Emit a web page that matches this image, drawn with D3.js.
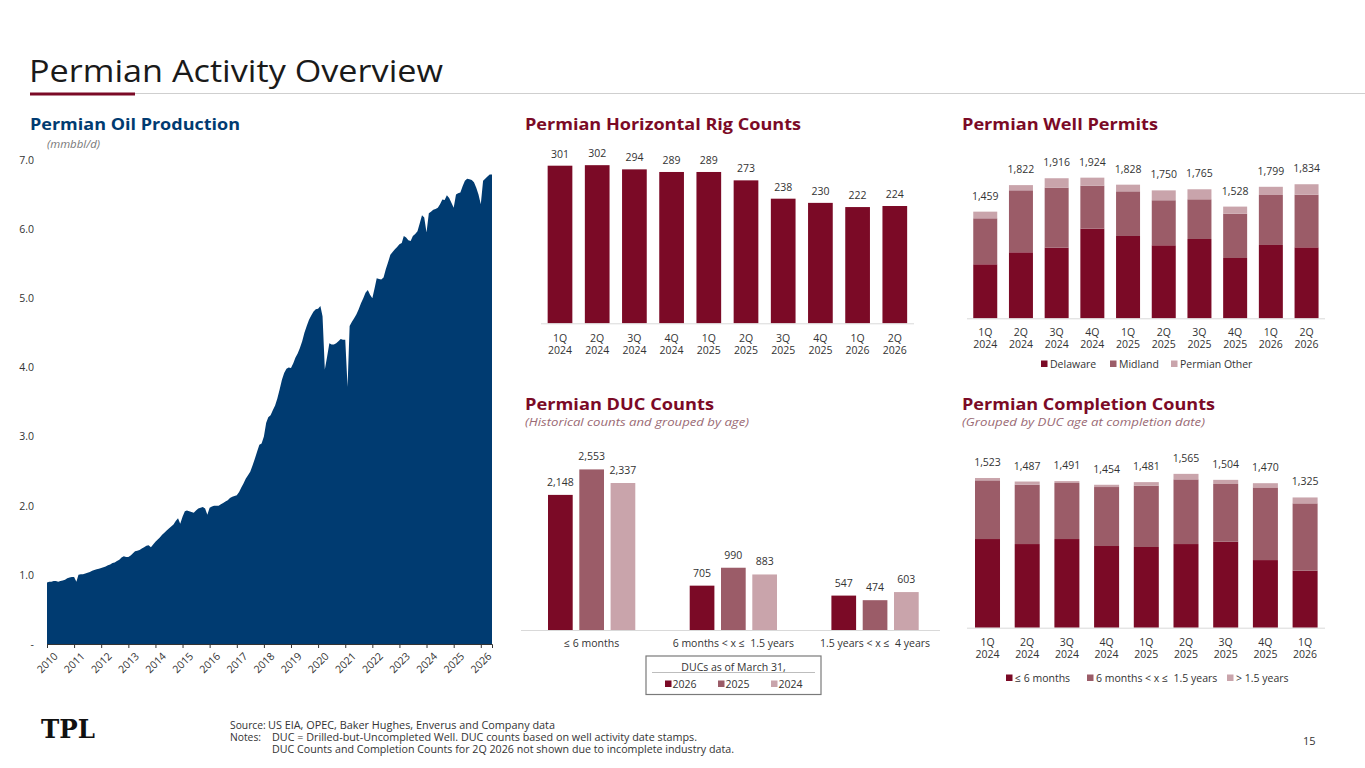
<!DOCTYPE html>
<html><head><meta charset="utf-8">
<script src="https://cdn.jsdelivr.net/npm/d3@7"></script>
<style>
body{margin:0;background:#fff}
svg{display:block}
text{font-family:"Open Sans","Noto Sans",sans-serif}
</style>
</head><body>
<svg id="c" width="1365" height="768"></svg>
<script>
// ---------------- DATA ----------------
const oilStart = "2010-01-01"; // monthly values from Jan 2010 (mmbbl/d)
const oilProduction = [
 0.89,0.90,0.90,0.91,0.91,0.90,0.91,0.92,0.93,0.95,0.96,0.97,
 0.97,0.90,1.00,1.01,1.01,1.02,1.03,1.04,1.06,1.07,1.08,1.09,
 1.10,1.11,1.12,1.14,1.15,1.17,1.18,1.20,1.22,1.25,1.27,1.26,
 1.26,1.28,1.31,1.34,1.35,1.36,1.38,1.40,1.42,1.43,1.40,1.44,
 1.48,1.51,1.54,1.58,1.61,1.64,1.67,1.70,1.73,1.78,1.82,1.74,
 1.84,1.92,1.93,1.92,1.91,1.90,1.93,1.96,1.97,1.98,1.96,1.87,
 1.97,1.99,2.00,2.00,2.00,2.02,2.04,2.06,2.08,2.11,2.13,2.14,
 2.15,2.20,2.26,2.32,2.39,2.44,2.49,2.58,2.68,2.78,2.88,2.90,
 3.00,3.20,3.28,3.31,3.38,3.45,3.55,3.68,3.82,3.92,3.98,4.00,
 3.99,4.06,4.14,4.20,4.28,4.38,4.50,4.60,4.69,4.75,4.81,4.84,
 4.85,4.89,4.74,3.97,4.15,4.35,4.33,4.33,4.35,4.38,4.41,4.40,
 4.40,3.72,4.60,4.66,4.71,4.77,4.84,4.93,5.00,5.08,5.12,5.05,
 5.00,5.15,5.29,5.28,5.27,5.30,5.42,5.52,5.63,5.67,5.71,5.74,
 5.78,5.80,5.90,5.88,5.84,5.83,5.90,5.93,5.97,6.08,6.20,6.17,
 5.95,6.23,6.25,6.28,6.29,6.31,6.36,6.43,6.42,6.49,6.45,6.38,
 6.31,6.50,6.52,6.53,6.62,6.70,6.73,6.72,6.71,6.68,6.60,6.50,
 6.36,6.70,6.73,6.76,6.79,6.79
];
const oilYTicks = [0,1,2,3,4,5,6,7];
const oilYears = d3.range(2010, 2027);

const rigQuarters = ["1Q 2024","2Q 2024","3Q 2024","4Q 2024","1Q 2025","2Q 2025","3Q 2025","4Q 2025","1Q 2026","2Q 2026"];
const rigCounts = [301,302,294,289,289,273,238,230,222,224];

const permitQuarters = ["1Q 2024","2Q 2024","3Q 2024","4Q 2024","1Q 2025","2Q 2025","3Q 2025","4Q 2025","1Q 2026","2Q 2026"];
const permitDelaware = [739,903,967,1227,1126,999,1085,825,1003,971];
const permitMidland  = [629,848,821,588,611,616,543,606,684,720];
const permitOther    = [91,71,128,109,91,135,137,97,112,143];
const permitSeries = ["Delaware","Midland","Permian Other"];

const ducCategories = ["≤ 6 months","6 months < x ≤  1.5 years","1.5 years < x ≤  4 years"];
const ducYears = ["2026","2025","2024"];
const duc2026 = [2148,705,547];
const duc2025 = [2553,990,474];
const duc2024 = [2337,883,603];

const complQuarters = ["1Q 2024","2Q 2024","3Q 2024","4Q 2024","1Q 2025","2Q 2025","3Q 2025","4Q 2025","1Q 2026"];
const complShort = [902,851,902,831,821,851,875,688,580];
const complMid   = [597,604,570,600,624,658,587,739,685];
const complLong  = [24,32,19,23,36,56,42,43,60];
const complSeries = ["≤ 6 months","6 months < x ≤  1.5 years","> 1.5 years"];

// ---------------- STYLE ----------------
const NAVY = "#003b71", MAROON = "#7b0a26", MAUVE = "#9b5c68", PINK = "#c9a4ab";
const TXT = "#333";
const fmt = d3.format(",");
const svg = d3.select("#c");

// ---------------- HEADER ----------------
svg.append("text").attr("x",29).attr("y",82).attr("font-size",30.5).attr("fill","#1a1a1a")
  .attr("font-weight",400).attr("textLength",414).attr("lengthAdjust","spacingAndGlyphs").text("Permian Activity Overview");
svg.append("line").attr("x1",135).attr("x2",1365).attr("y1",93.5).attr("y2",93.5).attr("stroke","#cfcfcf").attr("stroke-width",1);
svg.append("line").attr("x1",30).attr("x2",135).attr("y1",94).attr("y2",94).attr("stroke",MAROON).attr("stroke-width",3);

function title(x,y,t,c,w){ svg.append("text").attr("x",x).attr("y",y).attr("font-size",16.5).attr("font-weight",700).attr("fill",c)
  .attr("textLength",w).attr("lengthAdjust","spacingAndGlyphs").text(t); }
function subtitle(x,y,t,c,w){ svg.append("text").attr("x",x).attr("y",y).attr("font-size",11).attr("font-style","italic").attr("fill",c)
  .attr("textLength",w).attr("lengthAdjust","spacingAndGlyphs").text(t); }
function twoLine(g, x, yTop, label){
  const parts = label.split(" ");
  const t = g.append("text").attr("text-anchor","middle").attr("font-size",10.5).attr("fill",TXT);
  t.append("tspan").attr("x",x).attr("y",yTop).text(parts[0]);
  t.append("tspan").attr("x",x).attr("y",yTop+12).text(parts[1]);
}

// ---------------- OIL PRODUCTION ----------------
title(30,130,"Permian Oil Production",NAVY,210);
svg.append("text").attr("x",47).attr("y",148).attr("font-size",11).attr("font-style","italic").attr("fill","#777")
  .attr("textLength",53).attr("lengthAdjust","spacingAndGlyphs").text("(mmbbl/d)");
const oilData = oilProduction.map((v,i)=>({date:d3.timeMonth.offset(new Date(oilStart+"T00:00:00"), i), v}));
const xOil = d3.scaleTime().domain([oilData[0].date, oilData[oilData.length-1].date]).range([47,492]);
const yOil = d3.scaleLinear().domain([0,7]).range([644,160]);
svg.append("path").datum(oilData).attr("fill",NAVY)
  .attr("d", d3.area().x(d=>xOil(d.date)).y0(yOil(0)).y1(d=>yOil(d.v)));
const yAx = svg.append("g").attr("transform","translate(47,0)")
  .call(d3.axisLeft(yOil).tickValues(oilYTicks).tickSize(0).tickPadding(13).tickFormat(d=>d===0?"-":d3.format(".1f")(d)));
yAx.select(".domain").remove();
yAx.selectAll("text").attr("font-size",10.5).attr("fill",TXT).style("font-family","Open Sans");
const xAx = svg.append("g").attr("transform",`translate(0,${yOil(0)})`)
  .call(d3.axisBottom(xOil).tickValues(oilYears.map(y=>new Date(y,0,1))).tickSize(4).tickFormat(d3.timeFormat("%Y")));
xAx.select(".domain").attr("stroke","#333");
xAx.selectAll(".tick line").attr("stroke","#333");
xAx.selectAll("text").attr("font-size",10.5).attr("fill",TXT).style("font-family","Open Sans")
  .attr("text-anchor","end").attr("transform","translate(3,2) rotate(-45)").attr("dy","0.6em").attr("dx","-0.2em");

// ---------------- RIG COUNTS ----------------
title(525,130,"Permian Horizontal Rig Counts",MAROON,276);
const xRig = d3.scaleBand().domain(rigQuarters).range([541.4,913.4]).paddingInner(0.336).paddingOuter(0.168);
const yRig = d3.scaleLinear().domain([0,350]).range([323.3,140.04]);
const gRig = svg.append("g");
gRig.selectAll("rect").data(rigCounts).join("rect")
  .attr("x",(d,i)=>xRig(rigQuarters[i])).attr("width",xRig.bandwidth())
  .attr("y",d=>yRig(d)).attr("height",d=>yRig(0)-yRig(d)).attr("fill",MAROON);
gRig.selectAll("text.v").data(rigCounts).join("text").attr("class","v")
  .attr("x",(d,i)=>xRig(rigQuarters[i])+xRig.bandwidth()/2).attr("y",d=>yRig(d)-8)
  .attr("text-anchor","middle").attr("font-size",10.5).attr("fill",TXT).text(fmt);
gRig.append("line").attr("x1",541).attr("x2",914).attr("y1",yRig(0)+0.5).attr("y2",yRig(0)+0.5).attr("stroke","#d9d9d9");
rigQuarters.forEach(q=>twoLine(gRig, xRig(q)+xRig.bandwidth()/2, 341.5, q));

// ---------------- WELL PERMITS ----------------
title(962,130,"Permian Well Permits",MAROON,196);
const xPer = d3.scaleBand().domain(permitQuarters).range([967.4,1324.4]).paddingInner(0.328).paddingOuter(0.164);
const yPer = d3.scaleLinear().domain([0,2500]).range([318.3,135.55]);
const perRows = permitQuarters.map((q,i)=>({q, "Delaware":permitDelaware[i], "Midland":permitMidland[i], "Permian Other":permitOther[i]}));
const perStack = d3.stack().keys(permitSeries)(perRows);
const perColor = d3.scaleOrdinal().domain(permitSeries).range([MAROON,MAUVE,PINK]);
const gPer = svg.append("g");
gPer.selectAll("g.s").data(perStack).join("g").attr("class","s").attr("fill",s=>perColor(s.key))
  .selectAll("rect").data(s=>s).join("rect")
  .attr("x",d=>xPer(d.data.q)).attr("width",xPer.bandwidth())
  .attr("y",d=>yPer(d[1])).attr("height",d=>yPer(d[0])-yPer(d[1]));
gPer.selectAll("text.v").data(perRows).join("text").attr("class","v")
  .attr("x",d=>xPer(d.q)+xPer.bandwidth()/2)
  .attr("y",d=>yPer(d.Delaware+d.Midland+d["Permian Other"])-12)
  .attr("text-anchor","middle").attr("font-size",10.5).attr("fill",TXT)
  .text(d=>fmt(d.Delaware+d.Midland+d["Permian Other"]));
gPer.append("line").attr("x1",967).attr("x2",1325).attr("y1",yPer(0)+0.5).attr("y2",yPer(0)+0.5).attr("stroke","#d9d9d9");
permitQuarters.forEach(q=>twoLine(gPer, xPer(q)+xPer.bandwidth()/2, 335.5, q));
const perLegX = [1041,1110,1171];
permitSeries.forEach((s,i)=>{
  gPer.append("rect").attr("x",perLegX[i]).attr("y",360.5).attr("width",6.5).attr("height",6.5).attr("fill",perColor(s));
  gPer.append("text").attr("x",perLegX[i]+9).attr("y",367.5).attr("font-size",10.5).attr("fill",TXT).text(s);
});

// ---------------- DUC COUNTS ----------------
title(525,410,"Permian DUC Counts",MAROON,189);
subtitle(525,426,"(Historical counts and grouped by age)","#9a6a74",224);
const x0Duc = d3.scaleBand().domain(ducCategories).range([520.8,945.9]).paddingInner(0.384).paddingOuter(0.192);
const x1Duc = d3.scaleBand().domain(ducYears).range([0,x0Duc.bandwidth()]).paddingInner(0.211);
const yDuc = d3.scaleLinear().domain([0,3000]).range([630,441.3]);
const ducColor = d3.scaleOrdinal().domain(ducYears).range([MAROON,MAUVE,PINK]);
const ducVals = {"2026":duc2026,"2025":duc2025,"2024":duc2024};
const gDuc = svg.append("g");
ducCategories.forEach((c,ci)=>{
  ducYears.forEach(y=>{
    const v = ducVals[y][ci];
    const x = x0Duc(c)+x1Duc(y);
    gDuc.append("rect").attr("x",x).attr("width",x1Duc.bandwidth()).attr("y",yDuc(v)).attr("height",yDuc(0)-yDuc(v)).attr("fill",ducColor(y));
    gDuc.append("text").attr("x",x+x1Duc.bandwidth()/2).attr("y",yDuc(v)-9).attr("text-anchor","middle")
      .attr("font-size",10.5).attr("fill",TXT).text(fmt(v));
  });
  gDuc.append("text").attr("x",x0Duc(c)+x0Duc.bandwidth()/2).attr("y",647).attr("text-anchor","middle")
    .attr("font-size",10.5).attr("fill",TXT).attr("xml:space","preserve").text(c);
});
gDuc.append("line").attr("x1",521).attr("x2",940).attr("y1",yDuc(0)+0.5).attr("y2",yDuc(0)+0.5).attr("stroke","#d9d9d9");
gDuc.append("rect").attr("x",646).attr("y",656).attr("width",175).attr("height",38.5).attr("fill","none").attr("stroke","#7a7a7a").attr("stroke-width",1.2);
gDuc.append("text").attr("x",733.5).attr("y",670.5).attr("text-anchor","middle").attr("font-size",10.5).attr("fill",TXT).text("DUCs as of March 31,");
gDuc.append("line").attr("x1",652).attr("x2",815).attr("y1",672.5).attr("y2",672.5).attr("stroke","#bdbdbd");
const ducLegX = [665,718,771];
ducYears.forEach((y,i)=>{
  gDuc.append("rect").attr("x",ducLegX[i]).attr("y",680.5).attr("width",6.5).attr("height",6.5).attr("fill",ducColor(y));
  gDuc.append("text").attr("x",ducLegX[i]+7.5).attr("y",687.5).attr("font-size",10.5).attr("fill",TXT).text(y);
});

// ---------------- COMPLETION COUNTS ----------------
title(962,410,"Permian Completion Counts",MAROON,253);
subtitle(962,426,"(Grouped by DUC age at completion date)","#9a6a74",243);
const xCom = d3.scaleBand().domain(complQuarters).range([967.65,1324.95]).paddingInner(0.37).paddingOuter(0.185);
const yCom = d3.scaleLinear().domain([0,2000]).range([627.7,431.1]);
const comRows = complQuarters.map((q,i)=>({q, [complSeries[0]]:complShort[i], [complSeries[1]]:complMid[i], [complSeries[2]]:complLong[i]}));
const comStack = d3.stack().keys(complSeries)(comRows);
const comColor = d3.scaleOrdinal().domain(complSeries).range([MAROON,MAUVE,PINK]);
const gCom = svg.append("g");
gCom.selectAll("g.s").data(comStack).join("g").attr("class","s").attr("fill",s=>comColor(s.key))
  .selectAll("rect").data(s=>s).join("rect")
  .attr("x",d=>xCom(d.data.q)).attr("width",xCom.bandwidth())
  .attr("y",d=>yCom(d[1])).attr("height",d=>yCom(d[0])-yCom(d[1]));
gCom.selectAll("text.v").data(complQuarters).join("text").attr("class","v")
  .attr("x",q=>xCom(q)+xCom.bandwidth()/2)
  .attr("y",(q,i)=>yCom(complShort[i]+complMid[i]+complLong[i])-12)
  .attr("text-anchor","middle").attr("font-size",10.5).attr("fill",TXT)
  .text((q,i)=>fmt(complShort[i]+complMid[i]+complLong[i]));
gCom.append("line").attr("x1",967).attr("x2",1325).attr("y1",yCom(0)+0.5).attr("y2",yCom(0)+0.5).attr("stroke","#d9d9d9");
complQuarters.forEach(q=>twoLine(gCom, xCom(q)+xCom.bandwidth()/2, 645.5, q));
const comLegX = [1006,1087,1227];
complSeries.forEach((s,i)=>{
  gCom.append("rect").attr("x",comLegX[i]).attr("y",674.5).attr("width",6.5).attr("height",6.5).attr("fill",comColor(s));
  gCom.append("text").attr("x",comLegX[i]+9).attr("y",681.5).attr("font-size",10.5).attr("fill",TXT).attr("xml:space","preserve").text(s);
});

// ---------------- FOOTER ----------------
svg.append("text").attr("x",41).attr("y",738).style("font-family","'DejaVu Serif','Liberation Serif',serif").attr("font-weight",700)
  .attr("font-size",26).attr("textLength",54).attr("lengthAdjust","spacingAndGlyphs").attr("fill","#111").text("TPL");
const foot = [["Source:","US EIA, OPEC, Baker Hughes, Enverus and Company data",729,268,287],
              ["Notes:","DUC = Drilled-but-Uncompleted Well. DUC counts based on well activity date stamps.",741,272,425],
              ["","DUC Counts and Completion Counts for 2Q 2026 not shown due to incomplete industry data.",753,272,462]];
foot.forEach(f=>{
  if(f[0]) svg.append("text").attr("x",230).attr("y",f[2]).attr("font-size",10.3).attr("fill",TXT).text(f[0]);
  svg.append("text").attr("x",f[3]).attr("y",f[2]).attr("font-size",10.3).attr("fill",TXT)
    .attr("textLength",f[4]).attr("lengthAdjust","spacingAndGlyphs").text(f[1]);
});
svg.append("text").attr("x",1303).attr("y",745).attr("font-size",11).attr("fill",TXT).text("15");
</script>
</body></html>
